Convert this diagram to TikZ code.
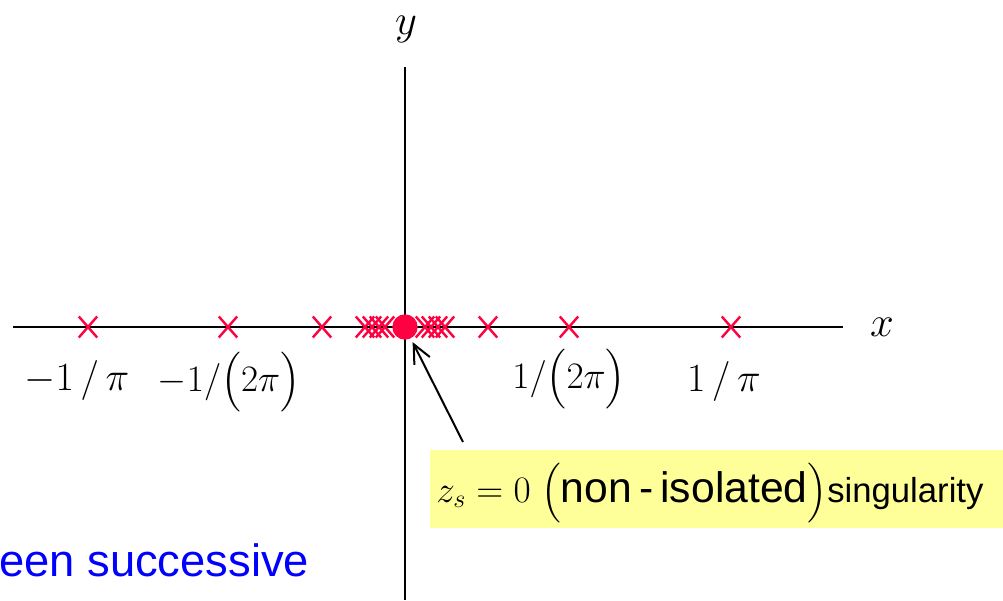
\RequirePackage{fix-cm}
\documentclass[tikz,border=0pt]{standalone}
\usepackage{amsmath}
\usepackage{fontspec}
\setsansfont{Liberation Sans}
\usepackage{xcolor}
\usetikzlibrary{shapes.misc, arrows.meta}

\definecolor{polered}{RGB}{255,0,64}
\definecolor{notebg}{RGB}{255,255,153}

\begin{document}
\begin{tikzpicture}[
    x=0.75pt, y=-0.75pt,
    axis/.style={line width=1.5pt},
    axislabel/.style={inner sep=0pt, font=\fontsize{32}{38}\selectfont},
    pole/.style={draw=polered, cross out, line width=1.8pt, minimum width=12pt, minimum height=14pt, inner sep=0pt},
    biglabel/.style={anchor=base, inner sep=0pt, font=\fontsize{30}{36}\selectfont},
    smalllabel/.style={anchor=base, inner sep=0pt, font=\fontsize{28}{34}\selectfont},
    note/.style={fill=notebg, anchor=north west, minimum width=430pt, minimum height=58pt, inner sep=0pt, text depth=0pt},
    pointer/.style={-{Straight Barb[length=14pt, width=13pt]}, line width=1.5pt, shorten >=3pt}
]
\useasboundingbox (0,0) rectangle (1003,600);

% Axes
\coordinate (xstart) at (13,327);
\coordinate (xend) at (843,327);
\coordinate (ystart) at (405,67);
\coordinate (yend) at (405,600);
\draw [axis] (xstart) -- (xend);
\draw [axis] (ystart) -- (yend);
\node (xlab) [axislabel] at (882,327) {$x$};
\node (ylab) [axislabel] at (406,29) {$y$};

% Poles on the real axis
\foreach \px [count=\i] in {-317,-177,-83,-40,-33,-26,-20,83,164,326,20,26,33,40}
    \node (pole\i) [pole] at (405+\px,327) {};
\node (origin) [circle, fill=polered, minimum size=19pt, inner sep=0pt] at (405,327) {};

% Labels under the axis
\node (lpi) [biglabel] at (77,390) {$-1\,/\,\pi$};
\node (ltwopi) [smalllabel] at (229,391) {$-1/\bigl(2\pi\bigr)$};
\node (rtwopi) [smalllabel] at (569,388) {$1/\bigl(2\pi\bigr)$};
\node (rpi) [biglabel] at (724,391) {$1\,/\,\pi$};

% Note box and pointer
\node (notebox) [note] at (430,450) {};
\node (notetext) [anchor=base west, inner sep=0pt] at (436,502)
    {\fontsize{28}{34}\selectfont$z_s=0\;\bigl($\fontsize{32}{38}\selectfont\textsf{non\,-\,isolated}\fontsize{28}{34}\selectfont$\bigr)$\fontsize{26}{31}\selectfont\textsf{singularity}};
\coordinate (tail) at (463,442);
\draw [pointer] (tail) -- (origin);

% Cut-off text at the bottom
\node (caption) [anchor=base west, inner sep=0pt, text=blue, font=\sffamily\fontsize{34}{41}\selectfont] at (-1,576) {een successive};

\end{tikzpicture}
\end{document}
